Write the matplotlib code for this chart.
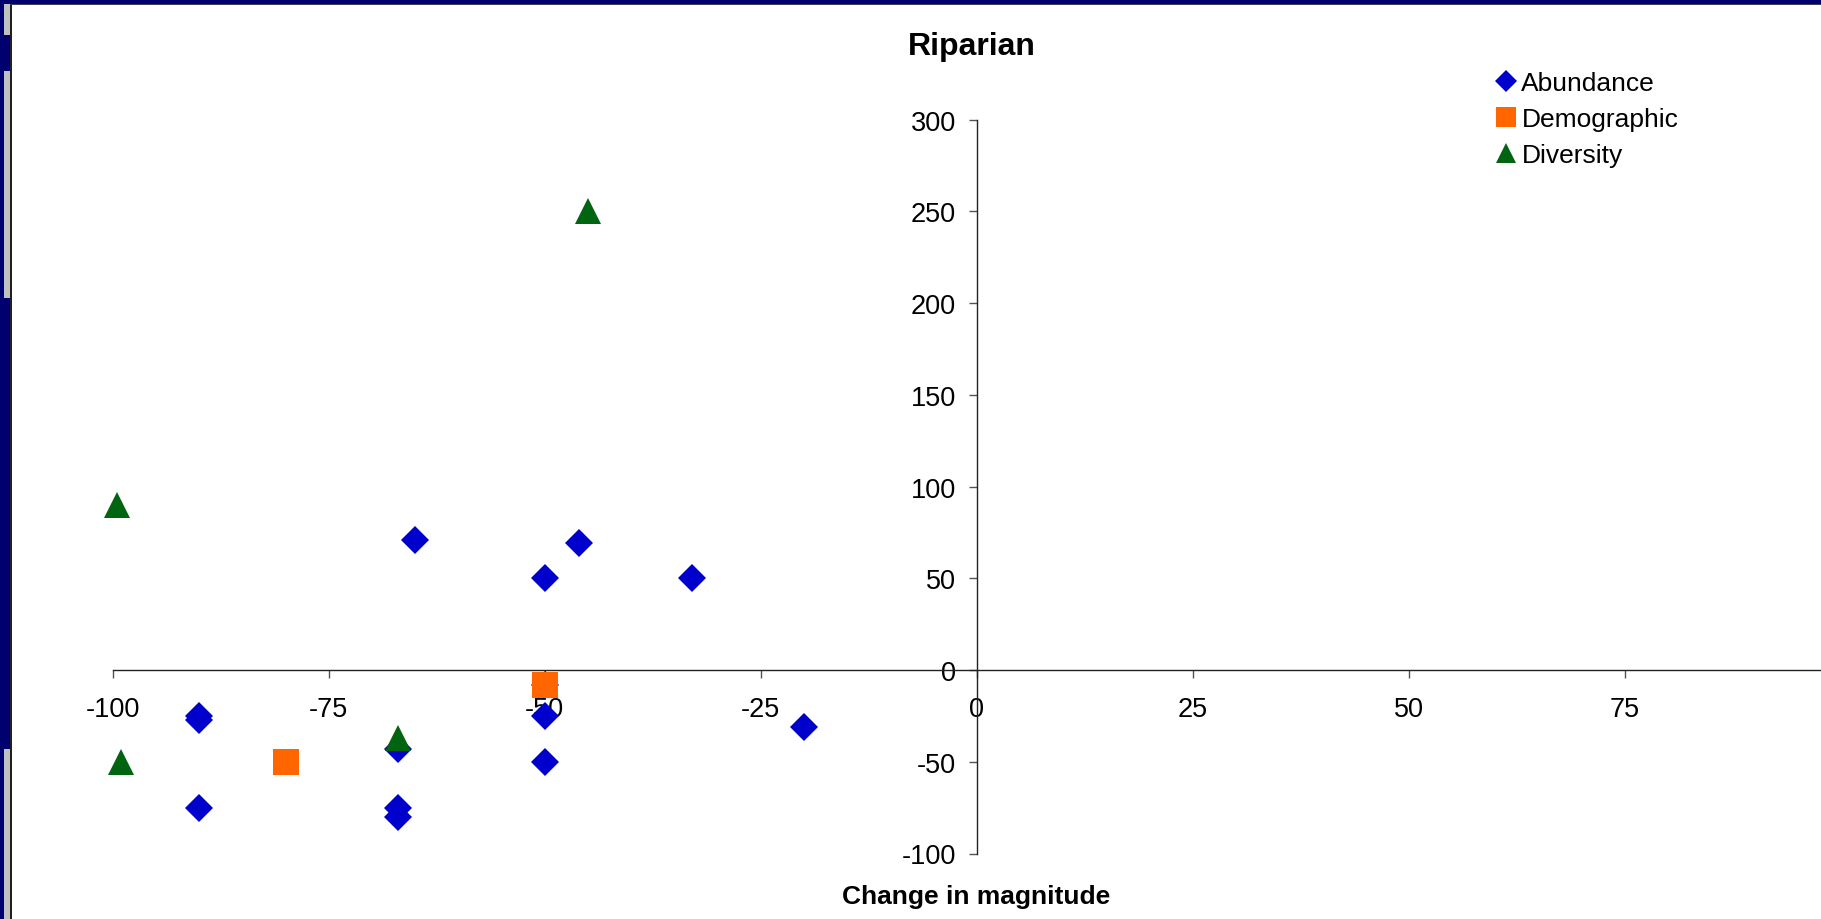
import matplotlib
matplotlib.use("Agg")
import matplotlib.pyplot as plt
from matplotlib.patches import Rectangle

plt.rcParams['font.family'] = ['Liberation Sans', 'DejaVu Sans']
plt.rcParams['axes.unicode_minus'] = False

# data
abundance_x = [-65, -50, -46, -33, -50, -90, -90, -50, -20, -67, -50, -90, -67, -67]
abundance_y = [71, 50, 69, 50, -8, -25, -27, -25, -31, -43, -50, -75, -75, -80]
demographic_x = [-50, -80]
demographic_y = [-8, -50]
diversity_x = [-45, -99.5, -67, -99]
diversity_y = [250, 90, -37, -50]

# 100 sits past the right edge of the picture, so no label for it
xticks = [-100, -75, -50, -25, 0, 25, 50, 75]
yticks = [-100, -50, 0, 50, 100, 150, 200, 250, 300]

W, H = 1821, 920
fig = plt.figure(figsize=(W / 100, H / 100), dpi=100)
fig.patch.set_facecolor('#00006E')

# slide-like frame: white panel, grey bars on left edge
fig.patches.append(Rectangle((11 / W, 0), 1, 1 - 6 / H, transform=fig.transFigure,
                             facecolor='white', edgecolor='none', zorder=-5))
fig.patches.append(Rectangle((10 / W, 0), 1.5 / W, 1 - 5 / H, transform=fig.transFigure,
                             facecolor='#202020', edgecolor='none', zorder=-4))
fig.patches.append(Rectangle((10 / W, 1 - 6 / H), 1, 1.5 / H, transform=fig.transFigure,
                             facecolor='#404050', edgecolor='none', zorder=-4))
for y0, y1 in [(5, 36), (72, 299), (750, 920)]:
    fig.patches.append(Rectangle((4 / W, 1 - y1 / H), 6 / W, (y1 - y0) / H,
                                 transform=fig.transFigure, facecolor='#C0C0C0',
                                 edgecolor='none', zorder=-4))

ax = fig.add_axes([112.7 / W, (H - 854.5) / H, (1840.7 - 112.7) / W, (854.5 - 120.5) / H])
ax.patch.set_alpha(0)

ax.plot(abundance_x, abundance_y, linestyle='none', marker='D', ms=14.5,
        mew=0, color='#0000CC', label='Abundance', clip_on=False)
ax.plot(demographic_x, demographic_y, linestyle='none', marker='s', ms=18.5,
        mew=0, color='#FF6600', label='Demographic', clip_on=False)
ax.plot(diversity_x, diversity_y, linestyle='none', marker='^', ms=18.5,
        mew=0, color='#006411', label='Diversity', clip_on=False)

ax.set_xlim(-100, 100)
ax.set_ylim(-100, 300)
ax.set_xticks(xticks)
ax.set_yticks(yticks)

ax.spines['left'].set_position(('data', 0))
ax.spines['bottom'].set_position(('data', 0))
ax.spines['top'].set_visible(False)
ax.spines['right'].set_visible(False)
for s in ['left', 'bottom']:
    ax.spines[s].set_linewidth(1.0)
    ax.spines[s].set_color('#222222')
ax.tick_params(axis='both', direction='out', length=6, width=1, color='#555555',
               labelsize=19.5, labelcolor='black')
ax.tick_params(axis='x', pad=13)
ax.tick_params(axis='y', pad=9)

fig.text(971.5 / W, 1 - 46.5 / H, 'Riparian', ha='center', va='center',
         fontsize=23, fontweight='bold')
fig.text(976 / W, 1 - 896.6 / H, 'Change in magnitude', ha='center', va='center',
         fontsize=19, fontweight='bold')

ax.legend(loc='upper left', bbox_to_anchor=(1495 / W, 1 - 72 / H),
          bbox_transform=fig.transFigure, frameon=False, fontsize=19,
          handlelength=0.8, handletextpad=0.2, labelspacing=0.45,
          borderpad=0, borderaxespad=0, markerscale=0.75)

fig.savefig('out.png', dpi=100, facecolor=fig.get_facecolor())
